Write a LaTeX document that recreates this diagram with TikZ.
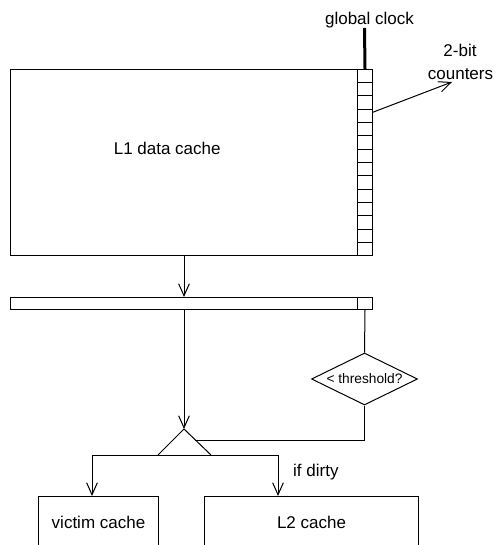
\documentclass[tikz,border=0pt]{standalone}
\usepackage{fontspec}
\setmainfont{Liberation Sans}
\usetikzlibrary{arrows.meta,shapes.geometric,calc}
\begin{document}
\begin{tikzpicture}[x=0.75pt,y=-0.75pt,
  line width=0.75pt,
  box/.style={draw,rectangle,inner sep=0pt,anchor=north west},
  lab/.style={font=\fontsize{12.75}{15}\selectfont,inner sep=0pt},
  arr/.style={-{Straight Barb[length=9pt,width=8pt]}}]
\useasboundingbox (0,0) rectangle (496,545);
\clip (0,0) rectangle (496,545);
% L1 cache with counter column
\node[box,minimum width=271.5pt,minimum height=139.5pt] (L1) at (10,69) {};
\node[box,minimum width=11.25pt,minimum height=139.5pt] (col) at (357,69) {};
\foreach \i in {1,...,13}
  \draw ($(col.north west)!\i/14!(col.south west)$) -- ($(col.north east)!\i/14!(col.south east)$);
\node[lab,anchor=base west] (l1lab) at (113.3,155) {L1 data cache};
% global clock
\coordinate (clk) at (364.5,28);
\draw[line width=2.25pt] (clk) -- (col.north);
\node[lab,anchor=base] (clklab) at (369.5,25) {global clock};
% counters label
\node[lab,anchor=base] (ctr1) at (460,56.7) {2-bit};
\node[lab,anchor=base] (ctr2) at (460.5,79.3) {counters};
\coordinate (cstart) at ($(col.north east)!0.231!(col.south east)$);
\coordinate (cend) at (452,82);
\draw[arr] (cstart) -- (cend);
% bar
\node[box,minimum width=271.5pt,minimum height=9pt] (bar) at (10,297) {};
\node[box,minimum width=11.25pt,minimum height=9pt] (cell) at (357,297) {};
% triangle (mux)
\coordinate (apex) at (184,429);
\coordinate (bl) at (158,455);
\coordinate (br) at (211,455);
\coordinate (sl) at (92,455);
\coordinate (sr) at (278,455);
\coordinate (tcut) at ($(apex)!0.423!(br)$);
\draw (bl) -- (apex) -- (br);
\draw (sl) -- (sr);
\draw[arr] (apex |- L1.south) -- (apex |- bar.north);
\draw[arr] (apex |- bar.south) -- (apex);
% threshold diamond
\node[draw,diamond,aspect=2.04,inner sep=0pt,minimum width=79.5pt,minimum height=39pt,
      font=\fontsize{10.3}{12}\selectfont] (dia) at (364.5,379) {< threshold?};
\draw (cell.south) -- (dia.north);
\draw (dia.south) |- (tcut);
% lower caches
\node[box,lab,minimum width=90pt,minimum height=38.25pt] (victim) at (38,496) {victim cache};
\node[box,lab,minimum width=160.5pt,minimum height=38.25pt] (L2) at (204,496) {L2 cache};
\draw[arr] (sl) -- (sl |- victim.north);
\draw[arr] (sr) -- (sr |- L2.north);
\node[lab,anchor=base west] (dirty) at (292.7,476.7) {if dirty};
\end{tikzpicture}
\end{document}
